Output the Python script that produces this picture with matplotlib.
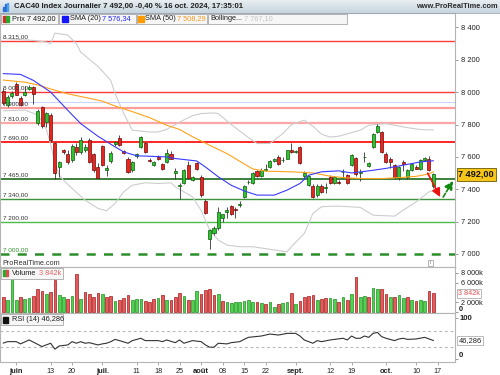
import matplotlib
matplotlib.use("Agg")
import matplotlib.pyplot as plt
import matplotlib.transforms as mtransforms
from matplotlib.patches import Rectangle
from matplotlib.colors import LinearSegmentedColormap
import numpy as np

plt.rcParams['font.family'] = ['Liberation Sans', 'DejaVu Sans']

# ---------------- data ----------------
title_text = "CAC40 Index Journalier 7 492,00 -0,40 % 16 oct. 2024, 17:35:01"
site_text = "www.ProRealTime.com"

# x-axis tick labels (trading-day index, label, is month)
x_label_days = [3, 11, 16, 23, 31, 36, 41, 46, 51, 56, 61, 68, 76, 81, 89, 96, 101]
x_labels = ["juin", "13", "20", "juil.", "11", "18", "25", "août", "08", "15",
            "22", "sept.", "12", "19", "oct.", "10", "17"]
x_label_month = [1, 0, 0, 1, 0, 0, 0, 1, 0, 0, 0, 1, 0, 0, 1, 0, 0]

opens = [8007, 7919, 7975, 8049, 7964, 7981, 8018, 8032, 7810, 7910,
         7816, 7857, 7683, 7535, 7640, 7621, 7584, 7662, 7631, 7641,
         7703, 7615, 7538, 7668, 7518, 7574, 7680, 7714, 7635, 7590,
         7518, 7606, 7662, 7683, 7583, 7553, 7600, 7559, 7569, 7621,
         7498, 7420, 7440, 7549, 7460, 7565, 7477, 7329, 7090, 7127,
         7158, 7220, 7260, 7296, 7278, 7305, 7350, 7444, 7440, 7512,
         7481, 7520, 7538, 7576, 7600, 7578, 7590, 7641, 7632, 7662,
         7481, 7426, 7420, 7364, 7420, 7408, 7477, 7440, 7448, 7505,
         7487, 7549, 7596, 7502, 7598, 7547, 7662, 7754, 7754, 7621,
         7590, 7549, 7467, 7566, 7473, 7522, 7538, 7528, 7580, 7590,
         7418]
highs = [8024, 7981, 8005, 8061, 7975, 8036, 8042, 8040, 7895, 7915,
         7880, 7870, 7695, 7574, 7650, 7640, 7680, 7685, 7723, 7680,
         7715, 7625, 7560, 7675, 7550, 7635, 7700, 7735, 7645, 7600,
         7575, 7625, 7730, 7690, 7595, 7575, 7610, 7565, 7648, 7635,
         7530, 7440, 7525, 7575, 7480, 7570, 7490, 7340, 7155, 7170,
         7288, 7250, 7290, 7300, 7290, 7330, 7425, 7460, 7505, 7520,
         7530, 7555, 7580, 7595, 7610, 7600, 7645, 7683, 7645, 7670,
         7510, 7490, 7430, 7430, 7430, 7440, 7490, 7485, 7460, 7525,
         7495, 7620, 7600, 7528, 7631, 7570, 7750, 7802, 7760, 7630,
         7600, 7555, 7545, 7578, 7525, 7565, 7550, 7585, 7600, 7605,
         7500]
lows = [7919, 7907, 7962, 7980, 7913, 7975, 8012, 7930, 7800, 7780,
        7785, 7690, 7465, 7477, 7620, 7555, 7570, 7610, 7620, 7630,
        7560, 7505, 7467, 7545, 7485, 7565, 7670, 7665, 7620, 7500,
        7505, 7595, 7655, 7625, 7570, 7545, 7580, 7520, 7560, 7585,
        7465, 7337, 7435, 7465, 7450, 7520, 7355, 7245, 7029, 7115,
        7150, 7200, 7220, 7240, 7220, 7290, 7345, 7435, 7435, 7475,
        7475, 7510, 7530, 7570, 7550, 7570, 7585, 7625, 7625, 7555,
        7470, 7420, 7345, 7355, 7375, 7380, 7430, 7435, 7435, 7470,
        7435, 7545, 7485, 7452, 7569, 7540, 7655, 7750, 7625, 7560,
        7530, 7465, 7460, 7510, 7465, 7515, 7525, 7520, 7575, 7510,
        7410]
closes = [7931, 7970, 7993, 7985, 7923, 8001, 8032, 7991, 7885, 7789,
          7872, 7703, 7498, 7566, 7630, 7569, 7668, 7631, 7703, 7662,
          7569, 7518, 7470, 7553, 7532, 7627, 7693, 7672, 7627, 7508,
          7569, 7618, 7723, 7631, 7575, 7566, 7586, 7528, 7625, 7590,
          7514, 7428, 7518, 7471, 7473, 7528, 7364, 7251, 7148, 7158,
          7260, 7247, 7269, 7247, 7275, 7312, 7420, 7448, 7501, 7481,
          7522, 7522, 7573, 7587, 7559, 7582, 7641, 7631, 7638, 7563,
          7498, 7481, 7350, 7420, 7384, 7411, 7436, 7477, 7440, 7507,
          7440, 7611, 7493, 7506, 7602, 7563, 7744, 7790, 7631, 7569,
          7569, 7473, 7538, 7559, 7518, 7559, 7528, 7580, 7594, 7518,
          7492]

# volume in thousands, colour flag (1 = up / green, 0 = down / red)
volumes = [3040, 2500, 6900, 2500, 3040, 2700, 2900, 3300, 4660, 4320,
           3710, 4120, 6550, 3450, 3040, 2760, 3310, 7770, 2700, 4050,
           3650, 3170, 3850, 3650, 3040, 3310, 2300, 2500, 2840, 3450,
           2500, 2640, 2640, 2370, 2160, 2640, 2980, 3520, 2500, 2500,
           3040, 3850, 3310, 2500, 2500, 4320, 3650, 4530, 4800, 3580,
           3720, 2370, 2100, 1960, 2030, 2100, 2300, 2500, 2030, 2030,
           1830, 1690, 2030, 1010, 1690, 1960, 2030, 3850, 1690, 2370,
           3040, 3310, 3450, 2500, 2700, 2980, 2980, 2640, 2100, 3040,
           2500, 3720, 7100, 3040, 3310, 3040, 4870, 4660, 4660, 3720,
           3040, 3040, 3520, 2840, 3040, 2500, 2370, 2500, 2370, 4320,
           3842]
volume_up = [0, 1, 1, 1, 0, 1, 1, 0, 0, 0,
             1, 0, 0, 1, 1, 0, 1, 0, 1, 0,
             0, 0, 0, 1, 0, 0, 1, 0, 0, 0,
             1, 1, 1, 0, 0, 0, 1, 0, 1, 0,
             0, 0, 1, 0, 1, 1, 0, 0, 0, 0,
             1, 0, 1, 1, 1, 1, 1, 1, 1, 0,
             1, 0, 1, 1, 0, 1, 1, 0, 1, 0,
             0, 0, 0, 1, 0, 0, 1, 1, 0, 1,
             0, 1, 0, 1, 1, 0, 1, 1, 0, 0,
             1, 0, 1, 1, 0, 1, 0, 1, 1, 0,
             0]

sma20_days = [0, 4, 7, 11, 15, 18, 22, 26, 28, 31, 34, 38, 40, 45, 47, 50, 53, 56,
              59, 63, 66, 69, 71, 74, 78, 81, 85, 89, 93, 97, 100]
sma20_vals = [8115, 8110, 8073, 8001, 7888, 7806, 7728, 7662, 7631, 7607, 7604, 7600,
              7590, 7575, 7538, 7477, 7425, 7390, 7364, 7364, 7395, 7436, 7487, 7508,
              7514, 7501, 7514, 7529, 7549, 7569, 7576.34]

sma50_days = [0, 5, 8, 11, 15, 19, 23, 26, 30, 34, 38, 41, 44, 48, 52, 56, 58, 61,
              67, 72, 76, 80, 84, 88, 92, 96, 99, 100]
sma50_vals = [8075, 8062, 8045, 8020, 7990, 7968, 7945, 7915, 7880, 7843, 7796, 7770,
              7725, 7672, 7621, 7557, 7526, 7512, 7508, 7501, 7481, 7470, 7466, 7466,
              7472, 7480, 7495, 7508.29]

boll_up_days = [0, 7, 10, 11, 12, 13, 15, 17, 18, 22, 25, 26, 28, 30, 34, 36, 38, 41,
                44, 46, 49, 50, 53, 57, 59, 62, 65, 67, 70, 72, 74, 76, 78, 83, 85,
                89, 94, 97, 100]
boll_up_vals = [8332, 8320, 8310, 8300, 8365, 8361, 8353, 8300, 8248, 8160, 8073, 7990,
                7870, 7765, 7754, 7754, 7770, 7815, 7855, 7868, 7872, 7868, 7800, 7720,
                7683, 7683, 7744, 7800, 7827, 7790, 7740, 7723, 7728, 7765, 7796, 7806,
                7781, 7769, 7767.10]

boll_lo_days = [0, 5, 8, 9, 10, 11, 12, 13, 14, 16, 19, 22, 24, 26, 28, 30, 33, 36,
                39, 40, 44, 46, 48, 50, 52, 55, 58, 62, 66, 67, 70, 72, 74, 76, 78,
                83, 86, 91, 93, 96, 99, 100]
boll_lo_vals = [7885, 7890, 7860, 7820, 7770, 7680, 7560, 7490, 7456, 7405, 7333, 7282,
                7267, 7313, 7384, 7425, 7440, 7436, 7440, 7415, 7353, 7270, 7148, 7086,
                7055, 7045, 7045, 7029, 7014, 7045, 7127, 7251, 7292, 7295, 7296, 7288,
                7240, 7234, 7271, 7322, 7384, 7392]

rsi_days = [0, 1, 3, 4, 6, 9, 11, 12, 13, 15, 16, 17, 18, 19, 20, 22, 23, 24, 25, 26,
            27, 29, 30, 32, 33, 36, 37, 38, 40, 41, 42, 44, 46, 47, 48, 49, 50, 52, 53,
            55, 56, 57, 60, 62, 64, 66, 68, 69, 70, 72, 73, 74, 76, 77, 79, 80, 81, 82,
            83, 84, 85, 86, 87, 88, 89, 91, 92, 93, 94, 96, 98, 100]
rsi_vals = [40, 43.5, 43.5, 38, 47.6, 31.5, 39.6, 25.2, 33, 35.5, 43.5, 39.6, 43.5, 39.6,
            41, 35.5, 38, 39.6, 43.5, 49, 46, 39.6, 46, 51.7, 46, 46, 43.5, 47.6, 41,
            47.6, 39.6, 46, 43.5, 35.5, 30, 30, 39.6, 38, 41, 43.5, 49, 54, 57.2, 62,
            59.6, 63.7, 63.7, 57.2, 47.6, 39.6, 46, 43.5, 47.6, 49, 51.7, 47.6, 57.2,
            51.7, 51.7, 57.2, 54, 63.7, 66, 55.6, 51.7, 46, 50, 51.7, 49, 50, 54, 46.286]

level_prices = [8315, 8000, 7940, 7900, 7810, 7690, 7465, 7340, 7200, 7000]
level_labels = ["8 315,00", "8 000,00", "", "7 900,00", "7 810,00", "7 690,00",
                "7 465,00", "7 340,00", "7 200,00", "7 000,00"]
level_colors = ["#ff3a3a", "#ff3a3a", "#c9d5ff", "#ff9c9c", "#ffa6a6", "#ff2626",
                "#1d6b1d", "#3c933c", "#4cbb4c", "#2a8f2a"]
level_widths = [1.0, 1.0, 0.8, 1.6, 1.6, 1.4, 1.2, 1.0, 1.0, 1.8]
level_dashed = [0, 0, 0, 0, 0, 0, 0, 0, 0, 1]

price_ticks = [7000, 7200, 7400, 7600, 7800, 8000, 8200, 8400]
vol_ticks = [2000, 6000, 8000]
last_close = 7492.00
sma20_last = 7576.34
sma50_last = 7508.29
boll_last = 7767.10
vol_last = 3842
rsi_last = 46.286

arrow_down = [(98.7, 7500), (101.6, 7352)]
arrow_up = [(102.3, 7352), (104.6, 7452)]


def fr(v, dec=2):
    s = f"{v:,.{dec}f}"
    return s.replace(",", " ").replace(".", ",")


# ---------------- layout ----------------
W, H = 500.0, 375.0
TOP, MAIN_BOT, VOL_BOT, RSI_BOT, RIGHT = 13.5, 266.7, 313.3, 361.7, 455.0


def frect(x0, y0, x1, y1):
    return [x0 / W, 1 - y1 / H, (x1 - x0) / W, (y1 - y0) / H]


fig = plt.figure(figsize=(5, 3.75), dpi=100)
fig.patch.set_facecolor("white")

ax = fig.add_axes(frect(0, TOP, RIGHT, MAIN_BOT))
axv = fig.add_axes(frect(0, MAIN_BOT, RIGHT, VOL_BOT), sharex=ax)
axr = fig.add_axes(frect(0, VOL_BOT, RIGHT, RSI_BOT), sharex=ax)

XMIN, XMAX = -0.77, 105.05
ax.set_xlim(XMIN, XMAX)
ax.set_ylim(6921.5, 8486.5)
VMIN = -200
axv.set_ylim(VMIN, 9250)
axr.set_ylim(-5.4, 112.6)

SPINE = "#b5b5b5"
for a in (ax, axv, axr):
    for s in a.spines.values():
        s.set_color(SPINE)
        s.set_linewidth(0.8)
    a.set_facecolor("white")
    a.yaxis.tick_right()
    a.tick_params(axis="y", direction="out", length=2.5, width=0.6, color="#888888",
                  labelsize=5.4, labelcolor="#222222", pad=1.5)
axv.tick_params(axis="y", labelsize=5.2)
ax.tick_params(axis="x", bottom=False, labelbottom=False)
axv.tick_params(axis="x", bottom=False, labelbottom=False)

days = np.arange(len(closes))
o = np.array(opens, float)
h = np.array(highs, float)
l = np.array(lows, float)
c = np.array(closes, float)

# horizontal levels
for p, lab, col, lw, dsh in zip(level_prices, level_labels, level_colors, level_widths, level_dashed):
    if dsh:
        ax.axhline(p, color=col, lw=lw, ls=(0, (3.6, 3.3)), zorder=1)
    else:
        ax.axhline(p, color=col, lw=lw, zorder=1)
    if lab:
        tcol = "#2a8f2a" if p == 7000 else "#333333"
        ax.annotate(lab, xy=(0.006, p), xycoords=("axes fraction", "data"),
                    xytext=(0, 1.2), textcoords="offset points", fontsize=4.6,
                    color=tcol, ha="left", va="bottom", zorder=6)

# Bollinger bands
ax.plot(boll_up_days, boll_up_vals, color="#cdcdcd", lw=0.8, zorder=2)
ax.plot(boll_lo_days, boll_lo_vals, color="#cdcdcd", lw=0.8, zorder=2)

# candles
up = c >= o
ax.vlines(days, l, h, color="#333333", lw=0.6, zorder=3)
body_bottom = np.minimum(o, c)
body_height = np.maximum(np.abs(c - o), 4)
ax.bar(days, body_height, bottom=body_bottom, width=0.7,
       color=np.where(up, "#2fc42f", "#e8261f"),
       edgecolor=np.where(up, "#0b5a0b", "#6b0b0b"), linewidth=0.5, zorder=4)

# moving averages
ax.plot(sma50_days, sma50_vals, color="#ffa31a", lw=0.8, zorder=5)
ax.plot(sma20_days, sma20_vals, color="#3a3aff", lw=0.8, zorder=5)

# arrows
ax.annotate("", xy=arrow_down[1], xytext=arrow_down[0],
            arrowprops=dict(arrowstyle="-|>,head_length=0.5,head_width=0.25", color="#ee1111",
                            lw=1.2, shrinkA=0, shrinkB=0), zorder=7, annotation_clip=False)
ax.annotate("", xy=arrow_up[1], xytext=arrow_up[0],
            arrowprops=dict(arrowstyle="-|>,head_length=0.5,head_width=0.25", color="#128a12",
                            lw=1.2, shrinkA=0, shrinkB=0, linestyle=(0, (2.5, 1.2))),
            zorder=7, annotation_clip=False)

ax.set_yticks(price_ticks)
ax.set_yticklabels([fr(v, 0) for v in price_ticks])

bt = mtransforms.blended_transform_factory(ax.transAxes, ax.transData)
ax.text(1.0075, last_close, fr(last_close), transform=bt, ha="left", va="center",
        fontsize=6.6, fontweight="bold", color="#111111", clip_on=False, zorder=10,
        bbox=dict(boxstyle="square,pad=0.18", fc="#f6c61a", ec="#6b5a00", lw=0.6))

# volume
vu = np.array(volume_up) == 1
axv.bar(days, volumes, width=0.62, color=np.where(vu, "#4fd24f", "#e55a5a"),
        edgecolor=np.where(vu, "#1f8f1f", "#a41d1d"), linewidth=0.5, zorder=3)
axv.set_yticks([0] + vol_ticks)
axv.set_yticklabels([""] + [fr(v, 0) + "k" for v in vol_ticks])
bv = mtransforms.blended_transform_factory(axv.transAxes, axv.transData)
axv.text(1.009, VMIN, "0", transform=bv, ha="left", va="bottom", fontsize=5.2,
         fontweight="bold", color="#222222", clip_on=False)
axv.text(1.0075, vol_last, fr(vol_last, 0) + "k", transform=bv, ha="left", va="center",
         fontsize=5.2, color="#e05252", clip_on=False, zorder=10,
         bbox=dict(boxstyle="square,pad=0.15", fc="white", ec="#b0b0b0", lw=0.6))

# RSI
axr.axhline(70, color="#b8b8b8", lw=0.8, ls=(0, (2.5, 2.5)), zorder=1)
axr.axhline(30, color="#b8b8b8", lw=0.8, ls=(0, (2.5, 2.5)), zorder=1)
axr.plot(rsi_days, rsi_vals, color="#333333", lw=0.8, zorder=3)
axr.set_yticks([0, 100])
axr.set_yticklabels(["", ""])
br = mtransforms.blended_transform_factory(axr.transAxes, axr.transData)
axr.text(1.009, 100, "100", transform=br, ha="left", va="center", fontsize=5.6,
         fontweight="bold", color="#222222", clip_on=False)
axr.text(1.009, 0, "0", transform=br, ha="left", va="bottom", fontsize=5.6,
         fontweight="bold", color="#222222", clip_on=False)
axr.text(1.0075, rsi_last, fr(rsi_last, 3), transform=br, ha="left", va="center",
         fontsize=5.4, color="#222222", clip_on=False, zorder=10,
         bbox=dict(boxstyle="square,pad=0.15", fc="white", ec="#b0b0b0", lw=0.6))

axr.set_xticks(x_label_days)
axr.set_xticklabels(x_labels)
axr.tick_params(axis="x", direction="out", length=2.5, width=0.6, color="#999999",
                pad=2, labelsize=5.2, labelcolor="#222222")
for lbl, m in zip(axr.get_xticklabels(), x_label_month):
    if m:
        lbl.set_fontweight("bold")
        lbl.set_fontsize(5.4)
axr.set_xlim(XMIN, XMAX)

# ---------------- header & legends (pixel overlay) ----------------
hax = fig.add_axes(frect(0, 0, 500, 13))
grad = np.linspace(0, 1, 32).reshape(-1, 1)
cmap = LinearSegmentedColormap.from_list("hdr", ["#e8eef2", "#c8d5de"])
hax.imshow(grad, aspect="auto", cmap=cmap, extent=[0, 1, 0, 1])
hax.axis("off")

ov = fig.add_axes([0, 0, 1, 1], zorder=20)
ov.set_xlim(0, W)
ov.set_ylim(H, 0)
ov.axis("off")
ov.patch.set_alpha(0)

ov.plot([0, 500], [13, 13], color="#9aa9b3", lw=0.6)
ov.add_patch(Rectangle((2.5, 6.5), 1.4, 4.5, color="#2b6fd8"))
ov.add_patch(Rectangle((4.6, 4.0), 1.4, 7.0, color="#2b6fd8"))
ov.add_patch(Rectangle((6.7, 2.5), 1.4, 8.5, color="#49a0e8"))
ov.text(14, 6.6, title_text, fontsize=5.6, fontweight="bold", color="#1e1e1e",
        ha="left", va="center")
ov.text(498, 6.6, site_text, fontsize=5.3, fontweight="bold", color="#2a2a2a",
        ha="right", va="center")

box_fc, box_ec = "#f6f6f6", "#a8a8a8"
for x0, x1 in [(1, 58), (59, 135.5), (136.5, 206.5), (207.5, 346.5)]:
    ov.add_patch(Rectangle((x0, 13.5), x1 - x0, 10.5, fc=box_fc, ec=box_ec, lw=0.6))
ov.add_patch(Rectangle((3, 16), 3, 6, color="#d42a2a"))
ov.add_patch(Rectangle((6, 16), 3, 6, color="#2aa82a"))
ov.add_patch(Rectangle((62, 16), 6, 6, color="#1414ff"))
ov.add_patch(Rectangle((138, 16), 6, 6, color="#ff9a00"))
LY = 19.0
LF = 5.3
ov.text(11.5, LY, "Prix " + fr(last_close), fontsize=LF, color="#1e1e1e", va="center")
ov.text(70, LY, "SMA (20)", fontsize=LF, color="#1e1e1e", va="center")
ov.text(102.5, LY, fr(sma20_last), fontsize=LF, color="#2525ff", va="center")
ov.text(145, LY, "SMA (50)", fontsize=LF, color="#1e1e1e", va="center")
ov.text(177, LY, fr(sma50_last), fontsize=LF, color="#f39a1a", va="center")
ov.text(210, LY, "Bollinge...", fontsize=LF, color="#1e1e1e", va="center")
ov.text(243.5, LY, fr(boll_last), fontsize=LF, color="#c4c4c4", va="center")

ov.text(2, 263.3, "ProRealTime.com", fontsize=5.2, color="#333333", va="center")
ov.add_patch(Rectangle((427.5, 259.5), 5.5, 6, fc="white", ec="#999999", lw=0.5))
ov.text(430.2, 262.6, "i", fontsize=3.8, ha="center", va="center", color="#666666")

ov.add_patch(Rectangle((0.5, 267.5), 62.5, 11.5, fc=box_fc, ec=box_ec, lw=0.6))
ov.add_patch(Rectangle((2.7, 270.3), 2.8, 6, color="#2aa82a"))
ov.add_patch(Rectangle((5.5, 270.3), 2.8, 6, color="#d95050"))
ov.text(11.5, 273.4, "Volume", fontsize=LF, color="#1e1e1e", va="center")
ov.text(39, 273.4, fr(vol_last, 0) + "k", fontsize=LF, color="#e06565", va="center")

ov.add_patch(Rectangle((0.5, 314), 62.5, 11, fc=box_fc, ec=box_ec, lw=0.6))
ov.add_patch(Rectangle((2.7, 316.5), 5.6, 6, color="#111111"))
ov.text(11.5, 319.6, "RSI (14) " + fr(rsi_last, 3), fontsize=LF, color="#1e1e1e", va="center")

fig.savefig("out.png", dpi=100, facecolor="white")
